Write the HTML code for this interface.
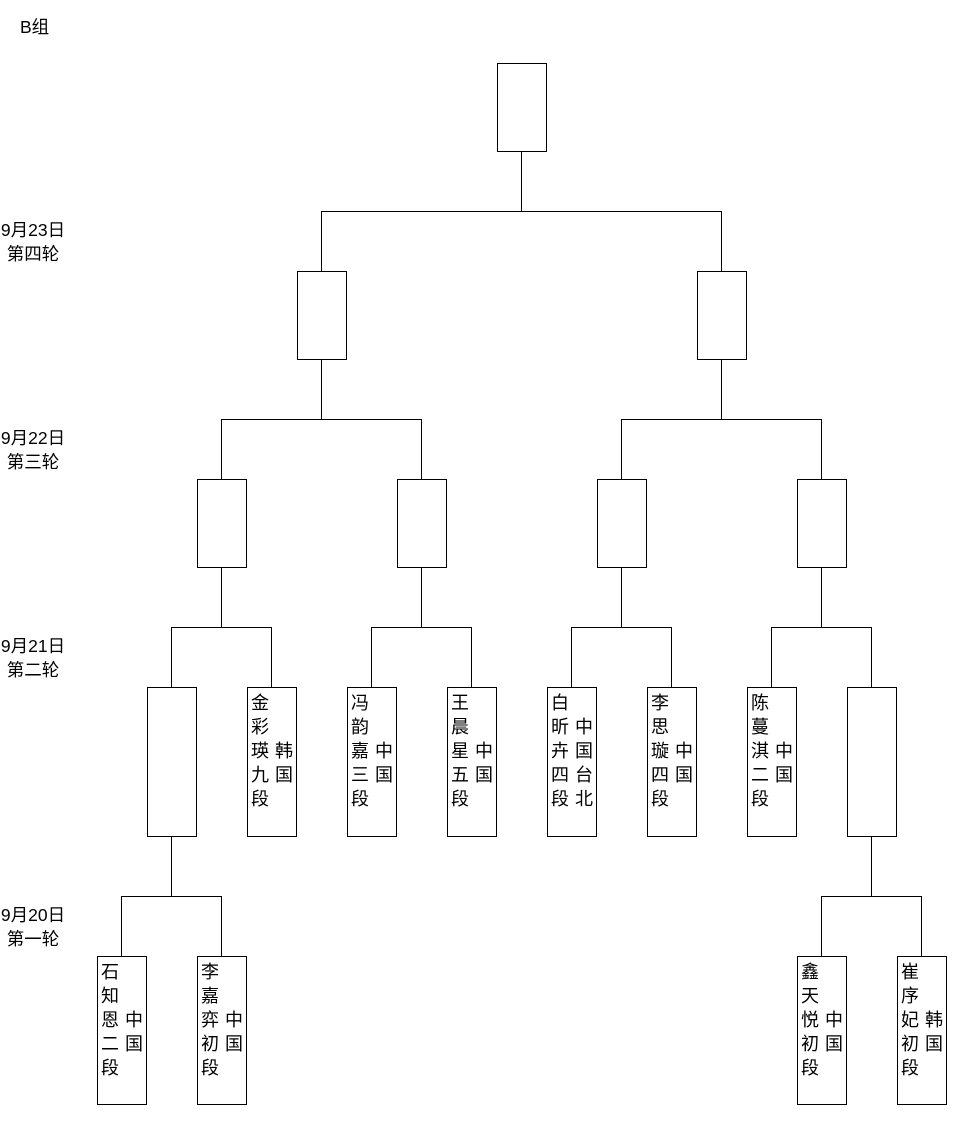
<!DOCTYPE html>
<html><head><meta charset="utf-8"><style>
body{margin:0;width:961px;height:1121px;background:#fff;position:relative;overflow:hidden;font-family:"Liberation Sans","Noto Sans CJK SC",sans-serif;color:#000}
.l{position:absolute;left:0;width:66px;text-align:center;font-size:17.5px;line-height:24px;white-space:nowrap}
.c{position:absolute;width:20px;font-size:18px;line-height:24px;text-align:left}
svg{position:absolute;left:0;top:0}
</style></head><body>
<svg width="961" height="1121" viewBox="0 0 961 1121">
<g fill="#fff" stroke="#000" stroke-width="1" shape-rendering="crispEdges">
<rect x="497.5" y="63.5" width="49" height="88"/>
<rect x="297.5" y="271.5" width="49" height="88"/>
<rect x="697.5" y="271.5" width="49" height="88"/>
<rect x="197.5" y="479.5" width="49" height="88"/>
<rect x="397.5" y="479.5" width="49" height="88"/>
<rect x="597.5" y="479.5" width="49" height="88"/>
<rect x="797.5" y="479.5" width="49" height="88"/>
<rect x="147.5" y="687.5" width="49" height="149"/>
<rect x="247.5" y="687.5" width="49" height="149"/>
<rect x="347.5" y="687.5" width="49" height="149"/>
<rect x="447.5" y="687.5" width="49" height="149"/>
<rect x="547.5" y="687.5" width="49" height="149"/>
<rect x="647.5" y="687.5" width="49" height="149"/>
<rect x="747.5" y="687.5" width="49" height="149"/>
<rect x="847.5" y="687.5" width="49" height="149"/>
<rect x="97.5" y="956.5" width="49" height="148"/>
<rect x="197.5" y="956.5" width="49" height="148"/>
<rect x="797.5" y="956.5" width="49" height="148"/>
<rect x="897.5" y="956.5" width="49" height="148"/>
</g>
<g fill="none" stroke="#000" stroke-width="1" shape-rendering="crispEdges">
<path d="M521.5 151V211.5M321.5 271V211.5H721.5V271"/>
<path d="M321.5 359V419.5M221.5 479V419.5H421.5V479"/>
<path d="M721.5 359V419.5M621.5 479V419.5H821.5V479"/>
<path d="M221.5 567V627.5M171.5 687V627.5H271.5V687"/>
<path d="M421.5 567V627.5M371.5 687V627.5H471.5V687"/>
<path d="M621.5 567V627.5M571.5 687V627.5H671.5V687"/>
<path d="M821.5 567V627.5M771.5 687V627.5H871.5V687"/>
<path d="M171.5 836V896.5M121.5 956V896.5H221.5V956"/>
<path d="M871.5 836V896.5M821.5 956V896.5H921.5V956"/>
</g>
</svg>
<div class="l" style="left:20px;top:15px;width:auto;text-align:left">B组</div>
<div class="l" style="top:218px">9月23日<br>第四轮</div>
<div class="l" style="top:426px">9月22日<br>第三轮</div>
<div class="l" style="top:634px">9月21日<br>第二轮</div>
<div class="l" style="top:903px">9月20日<br>第一轮</div>

<div class="c" style="left:251px;top:691px">金<br>彩<br>瑛<br>九<br>段</div>
<div class="c" style="left:275px;top:739px">韩<br>国</div>
<div class="c" style="left:351px;top:691px">冯<br>韵<br>嘉<br>三<br>段</div>
<div class="c" style="left:375px;top:739px">中<br>国</div>
<div class="c" style="left:451px;top:691px">王<br>晨<br>星<br>五<br>段</div>
<div class="c" style="left:475px;top:739px">中<br>国</div>
<div class="c" style="left:551px;top:691px">白<br>昕<br>卉<br>四<br>段</div>
<div class="c" style="left:575px;top:715px">中<br>国<br>台<br>北</div>
<div class="c" style="left:651px;top:691px">李<br>思<br>璇<br>四<br>段</div>
<div class="c" style="left:675px;top:739px">中<br>国</div>
<div class="c" style="left:751px;top:691px">陈<br>蔓<br>淇<br>二<br>段</div>
<div class="c" style="left:775px;top:739px">中<br>国</div>

<div class="c" style="left:101px;top:960px">石<br>知<br>恩<br>二<br>段</div>
<div class="c" style="left:125px;top:1008px">中<br>国</div>
<div class="c" style="left:201px;top:960px">李<br>嘉<br>弈<br>初<br>段</div>
<div class="c" style="left:225px;top:1008px">中<br>国</div>
<div class="c" style="left:801px;top:960px">鑫<br>天<br>悦<br>初<br>段</div>
<div class="c" style="left:825px;top:1008px">中<br>国</div>
<div class="c" style="left:901px;top:960px">崔<br>序<br>妃<br>初<br>段</div>
<div class="c" style="left:925px;top:1008px">韩<br>国</div>
</body></html>
